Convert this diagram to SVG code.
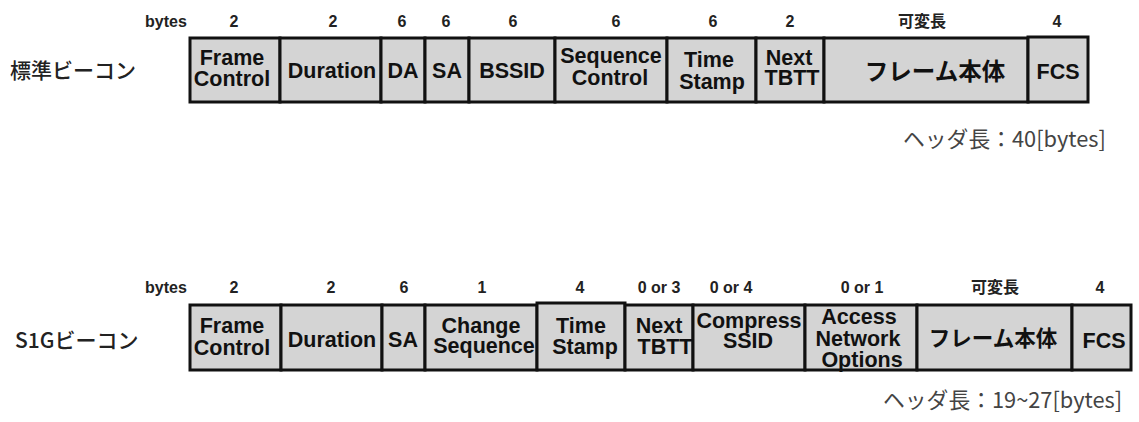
<svg xmlns="http://www.w3.org/2000/svg" width="1139" height="422" viewBox="0 0 1139 422">
  <style>
    .cell { fill: #d4d4d4; stroke: #111; stroke-width: 3; }
    .f { font-family: "Liberation Sans", "Noto Sans CJK JP", sans-serif; font-weight: 700; font-size: 21.5px; fill: #111; text-anchor: middle; }
    .jp { font-family: "Noto Sans CJK JP", sans-serif; font-weight: 700; fill: #111; text-anchor: middle; }
    .num { font-family: "Liberation Sans", "Noto Sans CJK JP", sans-serif; font-weight: 700; font-size: 16px; fill: #222; text-anchor: middle; }
    .title { font-family: "Noto Sans CJK JP", sans-serif; font-weight: 500; font-size: 21px; fill: #222; }
    .note { font-family: "Noto Sans CJK JP", sans-serif; font-weight: 400; font-size: 21.8px; fill: #444; }
  </style>
  <rect width="1139" height="422" fill="#fff"/>

  <!-- Standard beacon -->
  <g id="std-beacon">
    <text class="title" x="10" y="78">標準ビーコン</text>
    <g id="std-sizes">
      <text class="num" x="166" y="27">bytes</text>
      <text class="num" x="234" y="27">2</text>
      <text class="num" x="333" y="27">2</text>
      <text class="num" x="402" y="27">6</text>
      <text class="num" x="446" y="27">6</text>
      <text class="num" x="513" y="27">6</text>
      <text class="num" x="616" y="27">6</text>
      <text class="num" x="713" y="27">6</text>
      <text class="num" x="790" y="27">2</text>
      <text class="num" x="922" y="27">可変長</text>
      <text class="num" x="1057" y="27">4</text>
    </g>
    <g id="std-frame-control"><rect class="cell" x="190" y="38" width="90" height="64"/>
      <text class="f" x="232" y="65">Frame</text><text class="f" x="232" y="86">Control</text></g>
    <g id="std-duration"><rect class="cell" x="280" y="38" width="101" height="64"/>
      <text class="f" x="332" y="78">Duration</text></g>
    <g id="std-da"><rect class="cell" x="381" y="38" width="44" height="64"/>
      <text class="f" x="403" y="78">DA</text></g>
    <g id="std-sa"><rect class="cell" x="425" y="38" width="44" height="64"/>
      <text class="f" x="447" y="78">SA</text></g>
    <g id="std-bssid"><rect class="cell" x="469" y="38" width="86" height="64"/>
      <text class="f" x="512" y="78">BSSID</text></g>
    <g id="std-seq-control"><rect class="cell" x="555" y="38" width="112" height="64"/>
      <text class="f" x="611" y="63">Sequence</text><text class="f" x="610" y="85">Control</text></g>
    <g id="std-timestamp"><rect class="cell" x="667" y="38" width="89" height="64"/>
      <text class="f" x="709" y="67">Time</text><text class="f" x="712" y="89">Stamp</text></g>
    <g id="std-next-tbtt"><rect class="cell" x="756" y="38" width="68" height="64"/>
      <text class="f" x="789" y="65">Next</text><text class="f" x="792" y="85">TBTT</text></g>
    <g id="std-body"><rect class="cell" x="824" y="38" width="204" height="64"/>
      <text class="jp" x="935" y="80" font-size="23.5">フレーム本体</text></g>
    <g id="std-fcs"><rect class="cell" x="1028" y="37" width="60" height="65"/>
      <text class="f" x="1058" y="79">FCS</text></g>
    <text class="note" x="903" y="147">ヘッダ長：40[bytes]</text>
  </g>

  <!-- S1G beacon -->
  <g id="s1g-beacon">
    <text class="title" x="15" y="348">S1Gビーコン</text>
    <g id="s1g-sizes">
      <text class="num" x="166" y="293">bytes</text>
      <text class="num" x="234" y="293">2</text>
      <text class="num" x="331" y="293">2</text>
      <text class="num" x="404" y="293">6</text>
      <text class="num" x="482" y="293">1</text>
      <text class="num" x="580" y="293">4</text>
      <text class="num" x="659" y="293">0 or 3</text>
      <text class="num" x="731" y="293">0 or 4</text>
      <text class="num" x="862" y="293">0 or 1</text>
      <text class="num" x="995" y="293">可変長</text>
      <text class="num" x="1100" y="293">4</text>
    </g>
    <g id="s1g-frame-control"><rect class="cell" x="190" y="305" width="91" height="65"/>
      <text class="f" x="232" y="333">Frame</text><text class="f" x="232" y="355">Control</text></g>
    <g id="s1g-duration"><rect class="cell" x="281" y="305" width="101" height="65"/>
      <text class="f" x="332" y="347">Duration</text></g>
    <g id="s1g-sa"><rect class="cell" x="382" y="305" width="43" height="65"/>
      <text class="f" x="403" y="347">SA</text></g>
    <g id="s1g-change-seq"><rect class="cell" x="425" y="305" width="112" height="65"/>
      <text class="f" x="481" y="333">Change</text><text class="f" x="484" y="353">Sequence</text></g>
    <g id="s1g-timestamp"><rect class="cell" x="537" y="303" width="88" height="67"/>
      <text class="f" x="581" y="333">Time</text><text class="f" x="585" y="354">Stamp</text></g>
    <g id="s1g-next-tbtt"><rect class="cell" x="625" y="305" width="68" height="65"/>
      <text class="f" x="659" y="333">Next</text><text class="f" x="665" y="354">TBTT</text></g>
    <g id="s1g-compress-ssid"><rect class="cell" x="693" y="305" width="112" height="65"/>
      <text class="f" x="749" y="328">Compress</text><text class="f" x="748" y="348">SSID</text></g>
    <g id="s1g-ano"><rect class="cell" x="805" y="305" width="112" height="65"/>
      <text class="f" x="859" y="324">Access</text><text class="f" x="858" y="346">Network</text><text class="f" x="862" y="367">Options</text></g>
    <g id="s1g-body"><rect class="cell" x="917" y="305" width="155" height="65"/>
      <text class="jp" x="993" y="346" font-size="21.5">フレーム本体</text></g>
    <g id="s1g-fcs"><rect class="cell" x="1072" y="305" width="59" height="65"/>
      <text class="f" x="1104" y="348">FCS</text></g>
    <text class="note" x="883" y="408">ヘッダ長：19~27[bytes]</text>
  </g>
</svg>
